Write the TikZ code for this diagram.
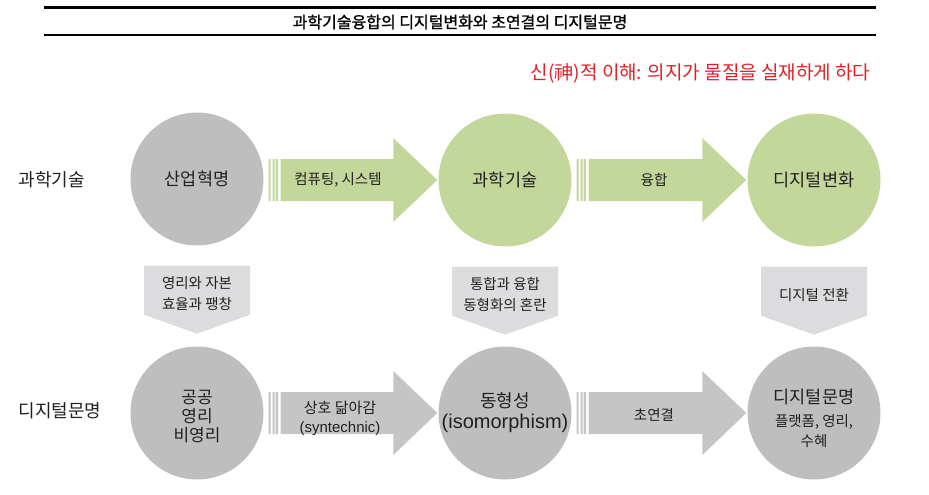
\documentclass[tikz,border=0pt]{standalone}
\usepackage{fontspec}
\setmainfont{Noto Sans CJK KR}
\newfontfamily\latinfont{Liberation Sans}
\newfontfamily\titlefont[FakeBold=1.2]{Noto Sans CJK KR}
\usetikzlibrary{calc,positioning}
\definecolor{arrgreen}{RGB}{196,215,155}
\definecolor{circgray}{RGB}{190,190,190}
\definecolor{arrgray}{RGB}{197,197,197}
\definecolor{boxgray}{RGB}{220,220,222}
\definecolor{txt}{RGB}{35,31,32}
\definecolor{redtxt}{RGB}{228,30,38}
\begin{document}
\begin{tikzpicture}[x=1pt,y=-1pt,
	ball/.style={circle,minimum size=133pt,inner sep=0pt,text=txt,align=center},
	green ball/.style={ball,fill=arrgreen},
	gray ball/.style={ball,fill=circgray},
	balltxt/.style={text=txt,align=center},
	arrtxt/.style={text=txt,align=center,font=\fontsize{14.5}{19}\selectfont},
	boxtxt/.style={text=txt,align=center,font=\fontsize{14.5}{21}\selectfont}]
	\useasboundingbox (0,0) rectangle (929,495);
	
	% kopf
	\draw[line width=3pt] (44,8) -- (876,8);
	\draw[line width=1.2pt] (44,35) -- (876,35);
	\node[text=black,font=\titlefont\fontsize{16}{18}\selectfont] (titel) at (460,22) {과학기술융합의 디지털변화와 초연결의 디지털문명};
	\node[anchor=east,text=redtxt,font=\fontsize{19}{21}\selectfont] (gott) at (874,73) {신(神)적 이해: 의지가 물질을 실재하게 하다};
	
	% zeilen
	\node[anchor=west,balltxt,font=\fontsize{18}{20}\selectfont] (zeile1) at (15,180) {과학기술};
	\node[anchor=west,balltxt,font=\fontsize{18}{20}\selectfont] (zeile2) at (15,411) {디지털문명};
	
	\node[gray ball,font=\fontsize{17.5}{20}\selectfont] (sanup) at (197,179) {산업혁명};
	\node[green ball,font=\fontsize{17.5}{20}\selectfont] (gwahak) at (505,180) {과학기술};
	\node[green ball,font=\fontsize{17.5}{20}\selectfont] (digbyun) at (814,180) {디지털변화};
	
	\node[gray ball] (gonggong) at (197,413) {};
	\node[balltxt,font=\fontsize{17}{19}\selectfont] (gonggongtxt) at (197,417) {공공\\영리\\비영리};
	\node[gray ball,font=\fontsize{18}{21}\selectfont] (donghyung) at (505,413) {동형성\\{\latinfont\fontsize{20}{21}\selectfont(isomorphism)}};
	\node[gray ball] (digmun) at (814,413) {};
	\node[balltxt,font=\fontsize{17.5}{20}\selectfont] (digmuntxt) at (814,418) {디지털문명\\[3pt]{\fontsize{14.5}{19}\selectfont 플랫폼, 영리,}\\{\fontsize{14.5}{19}\selectfont 수혜}};
	
	% pfeile
	\foreach \a/\b/\f in {sanup/gwahak/arrgreen, gwahak/digbyun/arrgreen, gonggong/donghyung/arrgray, donghyung/digmun/arrgray}{
		\fill[\f] let \p1=(\a.east), \p2=(\b.west) in
			(\x1+5pt,\y2-21pt) rectangle (\x1+7pt,\y2+21pt)
			(\x1+9pt,\y2-21pt) rectangle (\x1+11pt,\y2+21pt)
			(\x1+12pt,\y2-21pt) rectangle (\x1+14.5pt,\y2+21pt)
			(\x1+17pt,\y2-21pt) -- (\x2-45pt,\y2-21pt) -- (\x2-45pt,\y2-42pt) -- (\x2-1pt,\y2)
			-- (\x2-45pt,\y2+42pt) -- (\x2-45pt,\y2+21pt) -- (\x1+17pt,\y2+21pt) -- cycle;
	}
	\node[arrtxt] (p1) at (338,180) {컴퓨팅, 시스템};
	\node[arrtxt] (p2) at (654,180) {융합};
	\node[arrtxt,font=\fontsize{15}{19}\selectfont] (p3) at (340,418) {상호 닮아감\\{\latinfont\fontsize{15}{19}\selectfont(syntechnic)}};
	\node[arrtxt] (p4) at (654,415) {초연결};
	
	% kaesten nach unten
	\foreach \c in {sanup,gwahak,digbyun}{
		\fill[boxgray] let \p1=(\c.south) in
			(\x1-53pt,\y1-20pt) -- (\x1+53pt,\y1-20pt) -- (\x1+53pt,\y1-69pt) -- (\x1,\y1-88pt) -- (\x1-53pt,\y1-69pt) -- cycle;
	}
	\node[boxtxt] (k1) at ([yshift=-48pt]sanup.south) {영리와 자본\\효율과 팽창};
	\node[boxtxt] (k2) at ([yshift=-48pt]gwahak.south) {통합과 융합\\동형화의 혼란};
	\node[boxtxt] (k3) at ([yshift=-48pt]digbyun.south) {디지털 전환};
\end{tikzpicture}
\end{document}
